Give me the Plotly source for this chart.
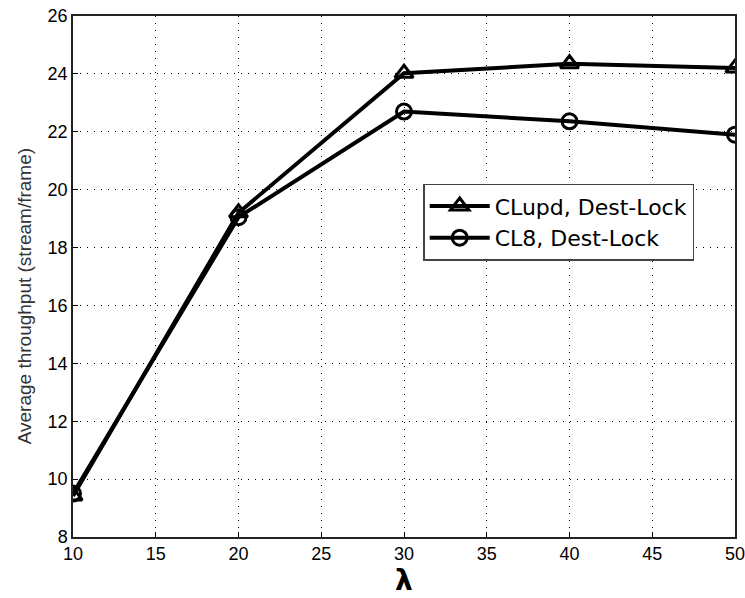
import plotly.graph_objects as go

lam = [10, 20, 30, 40, 50]
clupd = [9.42, 19.2, 24.02, 24.35, 24.2]
cl8 = [9.5, 19.05, 22.7, 22.36, 21.9]
series_names = ["CLupd, Dest-Lock", "CL8, Dest-Lock"]
x_ticks = [10, 15, 20, 25, 30, 35, 40, 45, 50]
y_ticks = [8, 10, 12, 14, 16, 18, 20, 22, 24, 26]

fig = go.Figure()
fig.add_trace(go.Scatter(
    x=lam, y=clupd, name=series_names[0], mode="lines+markers",
    line=dict(color="black", width=4),
    marker=dict(symbol="triangle-up-open", size=16, color="black", line=dict(width=3, color="black")),
))
fig.add_trace(go.Scatter(
    x=lam, y=cl8, name=series_names[1], mode="lines+markers",
    line=dict(color="black", width=4),
    marker=dict(symbol="circle-open", size=15, color="black", line=dict(width=3, color="black")),
))

axis_common = dict(
    showline=True, linecolor="#222", linewidth=1.5, mirror=True,
    showgrid=True, gridcolor="black", gridwidth=1, griddash="1px,6px",
    ticks="inside", ticklen=5, tickcolor="black", zeroline=False,
    tickfont=dict(family="Arial", size=18, color="black"),
    automargin=False, ticklabeloverflow="allow",
)

fig.update_layout(
    width=745, height=598,
    margin=dict(l=73, r=10, t=16, b=61),
    paper_bgcolor="white", plot_bgcolor="white",
    xaxis=dict(range=[10, 50], tickvals=x_ticks, **axis_common),
    yaxis=dict(range=[8, 26], tickvals=y_ticks, **axis_common),
    legend=dict(x=0.529, y=0.678, xanchor="left", yanchor="top",
                bgcolor="white", bordercolor="#444", borderwidth=1.5,
                font=dict(family="DejaVu Sans", size=22, color="black"),
                tracegroupgap=0, itemwidth=60),
    showlegend=True,
    annotations=[
        dict(text="<b>λ</b>", x=0.5, y=-0.084, xref="paper", yref="paper",
             xanchor="center", yanchor="middle", showarrow=False,
             font=dict(family="DejaVu Sans", size=28, color="black")),
        dict(text="Average throughput (stream/frame)", x=-0.074, y=0.462,
             xref="paper", yref="paper", xanchor="center", yanchor="middle",
             textangle=-90, showarrow=False,
             font=dict(family="Arial", size=19, color="#333")),
    ],
)

fig.write_html("out.html", config={"displayModeBar": False},
               post_script="document.body.style.margin='0';document.body.style.overflow='hidden';")
